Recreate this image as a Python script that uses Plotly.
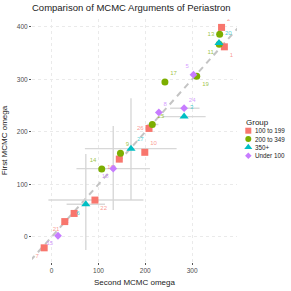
import plotly.graph_objects as go
import numpy as np

# ---- data ----
ids    = [1, 2, 3, 5, 6, 7, 8, 9, 10, 11, 13, 14, 15, 16, 17, 18, 19, 20, 21, 22, 23, 24, 25, 26, 27]
groups = ["100 to 199", "100 to 199", "350+", "Under 100", "350+", "100 to 199", "Under 100",
          "200 to 349", "100 to 199", "200 to 349", "200 to 349", "200 to 349", "Under 100",
          "100 to 199", "200 to 349", "Under 100", "200 to 349", "350+", "100 to 199",
          "100 to 199", "100 to 199", "Under 100", "200 to 349", "100 to 199", "350+"]
second = [369, 363, 283, 303, 73, -16, 229, 147, 199, 358, 359, 107, 13.5, 144.5, 242, 131.6,
          310, 357.5, 28, 92.5, 48, 283, 215, 208, 169.5]
first  = [362, 399, 229, 309, 62, -21, 237, 159, 161, 367, 386, 129, 2, 148, 295, 130,
          306, 369.5, 29, 70, 44.5, 245, 214, 206.5, 168]
nan = np.nan
x_lo = [nan, nan, 236, nan, 32, nan, nan, nan, nan, nan, nan, nan, nan, nan, nan, 53,
        nan, nan, nan, -7, nan, 253, 204, nan, 71]
x_hi = [nan, nan, 329, nan, 114, nan, nan, nan, nan, nan, nan, nan, nan, nan, nan, 210,
        nan, nan, nan, 196, nan, 316, 228, nan, 267]
y_lo = [nan, nan, nan, nan, -25, nan, nan, nan, nan, nan, nan, nan, nan, nan, nan, 51,
        nan, nan, nan, nan, nan, nan, nan, nan, 70]
y_hi = [nan, nan, nan, nan, 158, nan, nan, nan, nan, nan, nan, nan, nan, nan, nan, 211,
        nan, nan, nan, nan, nan, nan, nan, nan, 264]
label_pos = ["bottom right", "top right", "top right", "top left", "bottom left", "bottom left",
             "top right", "top right", "top right", "bottom left", "middle left", "top left",
             "bottom left", "bottom left", "top right", "bottom left", "bottom right", "top right",
             "bottom left", "bottom right", "bottom left", "top right", "top right", "middle left",
             "top right"]

group_order = ["100 to 199", "200 to 349", "350+", "Under 100"]
legend_title = "Group"
x_ticks = [0, 100, 200, 300]
y_ticks = [0, 100, 200, 300, 400]
colors = {"100 to 199": "#F8766D", "200 to 349": "#7CAE00", "350+": "#00BFC4", "Under 100": "#C77CFF"}
symbols = {"100 to 199": "square", "200 to 349": "circle", "350+": "triangle-up", "Under 100": "diamond"}
sizes = {"100 to 199": 7, "200 to 349": 7, "350+": 8, "Under 100": 6}
label_colors = {"100 to 199": "rgba(248,118,109,0.75)", "200 to 349": "rgba(124,174,0,0.75)",
                "350+": "rgba(0,191,196,0.75)", "Under 100": "rgba(199,124,255,0.75)"}

FONT = "Liberation Sans, Arial, sans-serif"
xr = [-42, 396]
yr = [-48, 415]

W, H = 291, 291
L, R, T, B = 32, 0, 19, 29
panel_right = 237
dom_split = (panel_right - L) / (W - L - R)

fig = go.Figure()

# identity line
fig.add_trace(go.Scatter(x=[xr[0] - 50, xr[1] + 50], y=[xr[0] - 50, xr[1] + 50], mode="lines",
                         line=dict(color="rgba(190,190,190,0.9)", width=2, dash="6px,5px"),
                         showlegend=False, hoverinfo="skip"))

# error bars (gray)
xs = np.array(second, float); ys = np.array(first, float)
xl = np.array(x_lo, float); xh = np.array(x_hi, float)
yl = np.array(y_lo, float); yh = np.array(y_hi, float)
fig.add_trace(go.Scatter(
    x=xs, y=ys, mode="markers", marker=dict(opacity=0, size=1), showlegend=False, hoverinfo="skip",
    error_x=dict(type="data", symmetric=False, array=np.nan_to_num(xh - xs, nan=0),
                 arrayminus=np.nan_to_num(xs - xl, nan=0), color="rgba(212,212,212,0.9)",
                 thickness=1.4, width=0),
    error_y=dict(type="data", symmetric=False, array=np.nan_to_num(yh - ys, nan=0),
                 arrayminus=np.nan_to_num(ys - yl, nan=0), color="rgba(212,212,212,0.9)",
                 thickness=1.4, width=0),
))

for g in group_order:
    idx = [i for i, gg in enumerate(groups) if gg == g]
    fig.add_trace(go.Scatter(
        x=[second[i] for i in idx], y=[first[i] for i in idx],
        mode="markers+text", name=g, showlegend=False,
        text=[str(ids[i]) for i in idx],
        textposition=[label_pos[i] for i in idx],
        textfont=dict(size=6, color=label_colors[g], family=FONT),
        marker=dict(color=colors[g], symbol=symbols[g], size=sizes[g], line=dict(width=0)),
    ))

# manual legend on an auxiliary axis whose units are pixels
leg_sym_x = 248.3
leg_txt_x = 252.5
leg_rows_y = [130.7, 139.0, 147.3, 155.7]
for g, yy in zip(group_order, leg_rows_y):
    fig.add_trace(go.Scatter(
        x=[leg_sym_x], y=[yy], xaxis="x2", yaxis="y2", mode="markers", showlegend=False,
        marker=dict(color=colors[g], symbol=symbols[g], size=sizes[g] - 1, line=dict(width=0)),
        hoverinfo="skip", cliponaxis=False))
    fig.add_annotation(x=leg_txt_x, y=yy, xref="x2", yref="y2", text=g, showarrow=False,
                       xanchor="left", yanchor="middle",
                       font=dict(size=6.3, color="#222", family=FONT))
fig.add_annotation(x=243.5, y=122.5, xref="x2", yref="y2", text=legend_title, showarrow=False,
                   xanchor="left", yanchor="middle", font=dict(size=8, color="#222", family=FONT))

axis_common = dict(showgrid=True, gridcolor="#EAEAEA", griddash="dot", gridwidth=1,
                   zeroline=False, ticks="outside", ticklen=2, tickcolor="#555",
                   tickfont=dict(size=6.5, color="#4D4D4D", family=FONT), showline=False)

fig.update_layout(
    width=W, height=H,
    margin=dict(l=L, r=R, t=T, b=B, autoexpand=False),
    paper_bgcolor="white", plot_bgcolor="white",
    font=dict(family=FONT, color="#222"),
    title=dict(text="Comparison of MCMC Arguments of Periastron", x=0, xref="paper",
               xanchor="left", y=1 - 8 / 291, yref="container", yanchor="middle",
               font=dict(size=9.5, color="#222", family=FONT)),
    showlegend=False,
    xaxis=dict(domain=[0, dom_split], range=xr, tickvals=x_ticks, anchor="y",
               title=dict(text="Second MCMC omega", font=dict(size=8, color="#222", family=FONT),
                          standoff=6), **axis_common),
    yaxis=dict(domain=[0, 1], range=yr, tickvals=y_ticks, anchor="x",
               title=dict(text="First MCMC omega", font=dict(size=8, color="#222", family=FONT),
                          standoff=10), **axis_common),
    xaxis2=dict(domain=[dom_split, 1], range=[panel_right, W], anchor="y2", visible=False,
                fixedrange=True),
    yaxis2=dict(domain=[0, 1], range=[H - B, T], anchor="x2", visible=False, fixedrange=True),
)

fig.write_html("out.html", config={"displayModeBar": False},
               post_script="document.body.style.margin='0';")
